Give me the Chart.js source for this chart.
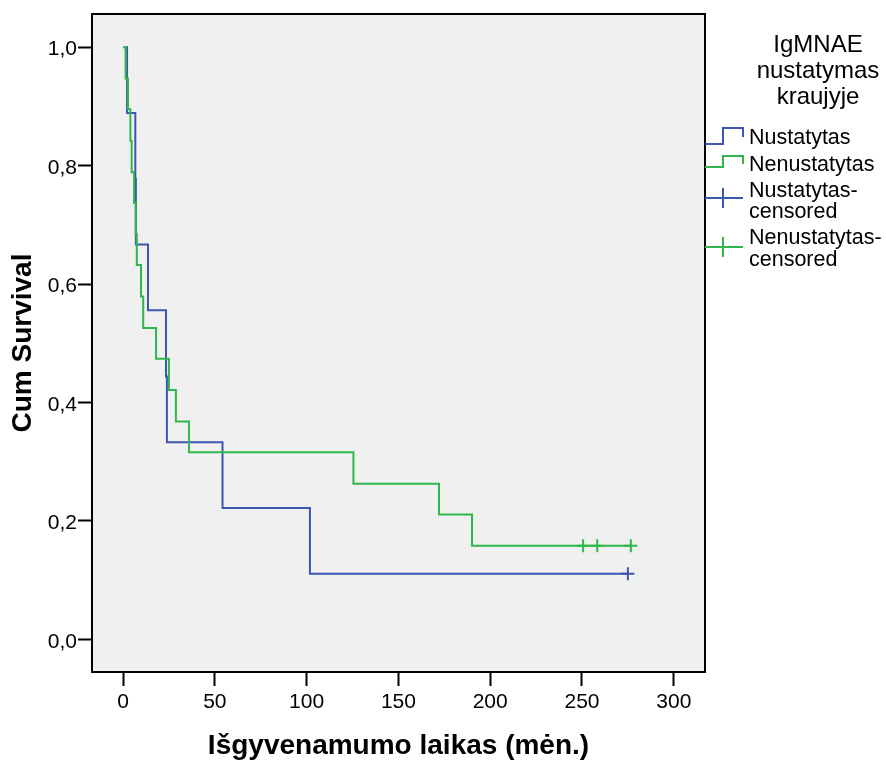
<!DOCTYPE html>
<html>
<head>
<meta charset="utf-8">
<script src="https://cdn.jsdelivr.net/npm/chart.js@4/dist/chart.umd.min.js"></script>
<style>
  body { margin: 0; background: #fff; }
  #chart { display: block; }
</style>
</head>
<body>
<canvas id="chart" width="886" height="763"></canvas>
<script>
// survival curves (time in months, cumulative survival)
const blueTimes = [1, 2.2, 6.7, 7.0, 13.6, 23.4, 23.9, 54.2, 101.8, 275];
const blueSurv = [1, 0.889, 0.778, 0.667, 0.556, 0.444, 0.333, 0.222, 0.111, 0.111];
const greenTimes = [0, 1.4, 2.7, 4.0, 4.7, 6.0, 6.9, 7.5, 9.8, 11.0, 18.0, 25.0, 28.8, 35.9, 125.5, 172.1, 190.1, 276.6];
const greenSurv = [1, 0.947, 0.895, 0.842, 0.789, 0.737, 0.684, 0.632, 0.579, 0.526, 0.474, 0.421, 0.368, 0.316, 0.263, 0.211, 0.158, 0.158];

const blueCensTimes = [275];
const blueCensSurv = [0.111];
const greenCensTimes = [250.6, 258.3, 276.6];
const greenCensSurv = [0.158, 0.158, 0.158];

const xTicks = [0, 50, 100, 150, 200, 250, 300];
const yTicks = [0, 0.2, 0.4, 0.6, 0.8, 1.0];

const legendTitle = ['IgMNAE', 'nustatymas', 'kraujyje'];
const legendLabels = [['Nustatytas'], ['Nenustatytas'], ['Nustatytas-', 'censored'], ['Nenustatytas-', 'censored']];

const BLUE = '#3d56b0';
const GREEN = '#2fb74a';
const FONT = '"Liberation Sans", Arial, sans-serif';

const pts = (xs, ys) => xs.map((x, i) => ({ x: x, y: ys[i] }));

const plotFrame = {
  id: 'plotFrame',
  beforeDatasetsDraw(chart) {
    const { ctx, chartArea: a } = chart;
    ctx.save();
    ctx.fillStyle = '#f0f0f0';
    ctx.fillRect(a.left, a.top, a.right - a.left, a.bottom - a.top);
    ctx.restore();
  },
  afterDraw(chart) {
    const { ctx, chartArea: a } = chart;
    ctx.save();
    ctx.strokeStyle = '#000';
    ctx.lineWidth = 2;
    ctx.strokeRect(a.left, a.top, a.right - a.left, a.bottom - a.top);

    // legend
    ctx.fillStyle = '#000';
    ctx.font = '24px ' + FONT;
    ctx.textAlign = 'center';
    ctx.textBaseline = 'alphabetic';
    legendTitle.forEach((t, i) => ctx.fillText(t, 818, 52 + i * 26));

    ctx.font = '21.5px ' + FONT;
    ctx.textAlign = 'left';
    const x0 = a.right, xm = 723, x1 = 743;
    // step symbols
    [[BLUE, 144, 128, 137], [GREEN, 167, 156, 164]].forEach(([c, yb, yt, ye]) => {
      ctx.strokeStyle = c;
      ctx.lineWidth = 2;
      ctx.beginPath();
      ctx.moveTo(x0, yb); ctx.lineTo(xm, yb); ctx.lineTo(xm, yt);
      ctx.lineTo(x1, yt); ctx.lineTo(x1, ye);
      ctx.stroke();
    });
    // censored symbols
    [[BLUE, 198], [GREEN, 247]].forEach(([c, y]) => {
      ctx.strokeStyle = c;
      ctx.lineWidth = 2;
      ctx.beginPath();
      ctx.moveTo(x0, y); ctx.lineTo(x1, y);
      ctx.moveTo(xm, y - 10); ctx.lineTo(xm, y + 10);
      ctx.stroke();
    });
    const baselines = [[144], [171], [197, 218], [244, 266]];
    legendLabels.forEach((lines, i) => {
      lines.forEach((t, j) => ctx.fillText(t, 749, baselines[i][j]));
    });
    ctx.restore();
  }
};

new Chart(document.getElementById('chart'), {
  type: 'line',
  data: {
    datasets: [
      {
        label: 'Nenustatytas',
        data: pts(greenTimes, greenSurv),
        borderColor: GREEN,
        borderWidth: 2,
        stepped: true,
        pointRadius: 0,
        fill: false
      },
      {
        label: 'Nustatytas',
        data: pts(blueTimes, blueSurv),
        borderColor: BLUE,
        borderWidth: 2,
        stepped: true,
        pointRadius: 0,
        fill: false
      },
      {
        label: 'Nustatytas-censored',
        data: pts(blueCensTimes, blueCensSurv),
        showLine: false,
        pointStyle: 'cross',
        pointRadius: 6.5,
        pointBorderWidth: 2,
        borderColor: BLUE
      },
      {
        label: 'Nenustatytas-censored',
        data: pts(greenCensTimes, greenCensSurv),
        showLine: false,
        pointStyle: 'cross',
        pointRadius: 6.5,
        pointBorderWidth: 2,
        borderColor: GREEN
      }
    ]
  },
  options: {
    responsive: false,
    animation: false,
    layout: { padding: { top: 14, right: 181, bottom: 0, left: 0 } },
    plugins: { legend: { display: false }, tooltip: { enabled: false } },
    scales: {
      x: {
        type: 'linear',
        min: -16.9,
        max: 317,
        afterBuildTicks: s => { s.ticks = xTicks.map(v => ({ value: v })); },
        afterFit: s => { s.height = 91; s.paddingLeft = 0; s.paddingRight = 0; },
        border: { display: false },
        grid: { drawOnChartArea: false, tickLength: 14, tickWidth: 2, tickColor: '#000' },
        ticks: { color: '#000', padding: 4, font: { family: FONT, size: 21 }, maxRotation: 0 },
        title: {
          display: true,
          text: 'Išgyvenamumo laikas (mėn.)',
          color: '#000',
          font: { family: FONT, size: 28, weight: 'bold' },
          padding: { top: 0, bottom: 0 }
        }
      },
      y: {
        type: 'linear',
        min: -0.055,
        max: 1.056,
        afterBuildTicks: s => { s.ticks = yTicks.map(v => ({ value: v })); },
        afterFit: s => { s.width = 92; s.paddingTop = 0; s.paddingBottom = 0; },
        border: { display: false },
        grid: { drawOnChartArea: false, tickLength: 14, tickWidth: 2, tickColor: '#000' },
        ticks: {
          color: '#000',
          padding: 1,
          labelOffset: 2.5,
          font: { family: FONT, size: 21 },
          callback: v => v.toFixed(1).replace('.', ',')
        },
        title: {
          display: true,
          text: 'Cum Survival',
          color: '#000',
          font: { family: FONT, size: 28, weight: 'bold' },
          padding: { top: 6, bottom: 0 }
        }
      }
    }
  },
  plugins: [plotFrame]
});
</script>
</body>
</html>
